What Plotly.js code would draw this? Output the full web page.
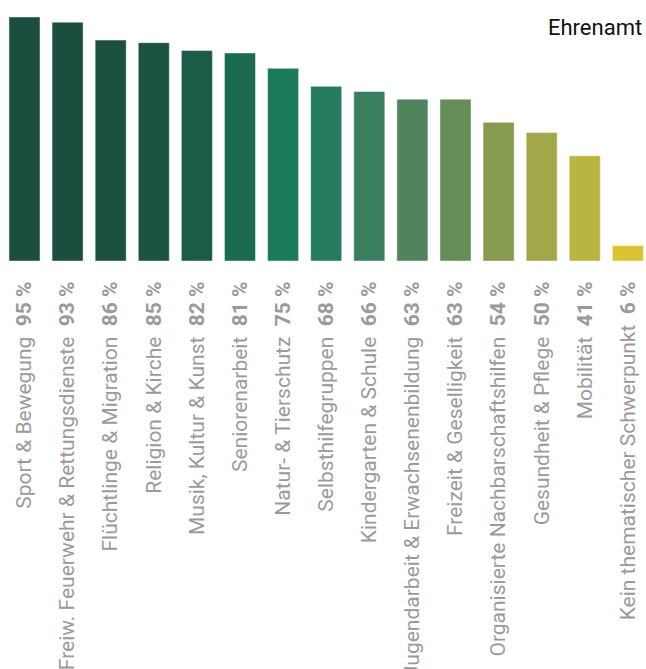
<!DOCTYPE html>
<html>
<head>
<meta charset="utf-8">
<script src="https://cdn.plot.ly/plotly-3.0.1.min.js"></script>
<style>html,body{margin:0;padding:0;background:#fff;}#chart{width:646px;height:669px;}</style>
</head>
<body>
<div id="chart"></div>
<script>
const categories = [
  "Sport & Bewegung",
  "Freiw. Feuerwehr & Rettungsdienste",
  "Flüchtlinge & Migration",
  "Religion & Kirche",
  "Musik, Kultur & Kunst",
  "Seniorenarbeit",
  "Natur- & Tierschutz",
  "Selbsthilfegruppen",
  "Kindergarten & Schule",
  "Jugendarbeit & Erwachsenenbildung",
  "Freizeit & Geselligkeit",
  "Organisierte Nachbarschaftshilfen",
  "Gesundheit & Pflege",
  "Mobilität",
  "Kein thematischer Schwerpunkt"
];
const values = [95, 93, 86, 85, 82, 81, 75, 68, 66, 63, 63, 54, 50, 41, 6];
const barColors = [
  "#1b4e3e", "#1b4e3e", "#1b4f3f", "#1b5240", "#1a5c47",
  "#1a6b50", "#1b7a5a", "#257c5c", "#3a7e5d", "#4f845c",
  "#658d58", "#869a50", "#a2a84a", "#bab542", "#dbc434"
];
const tickLabels = categories.map((c, i) => c + "  <b>" + values[i] + " %</b>");

const trace = {
  type: "bar",
  x: categories,
  y: values,
  marker: { color: barColors, line: { color: "rgba(255,255,255,0.45)", width: 1 } },
  hoverinfo: "x+y"
};

const layout = {
  width: 646,
  height: 669,
  margin: { l: 0, r: 0, t: 17, b: 408 },
  paper_bgcolor: "#ffffff",
  plot_bgcolor: "#ffffff",
  bargap: 0.28,
  showlegend: false,
  font: { family: "Roboto, 'Liberation Sans', sans-serif", color: "#9a9a9a" },
  xaxis: {
    type: "category",
    range: [-0.568, 14.42],
    tickvals: categories,
    ticktext: tickLabels,
    tickangle: -90,
    tickfont: { size: 21, color: "#9a9a9a", family: "Roboto, 'Liberation Sans', sans-serif" },
    ticks: "outside",
    ticklen: 11,
    tickcolor: "rgba(0,0,0,0)",
    showline: false,
    showgrid: false,
    zeroline: false,
    automargin: false
  },
  yaxis: {
    range: [0, 95],
    visible: false,
    showgrid: false,
    zeroline: false
  },
  annotations: [{
    text: "Ehrenamt",
    xref: "paper", yref: "paper",
    x: 1, y: 0.955,
    xanchor: "right", yanchor: "middle",
    xshift: -2,
    showarrow: false,
    font: { size: 22, color: "#111111", family: "Roboto, 'Liberation Sans', sans-serif" }
  }]
};

Plotly.newPlot("chart", [trace], layout, { displayModeBar: false, staticPlot: true });
</script>
</body>
</html>
